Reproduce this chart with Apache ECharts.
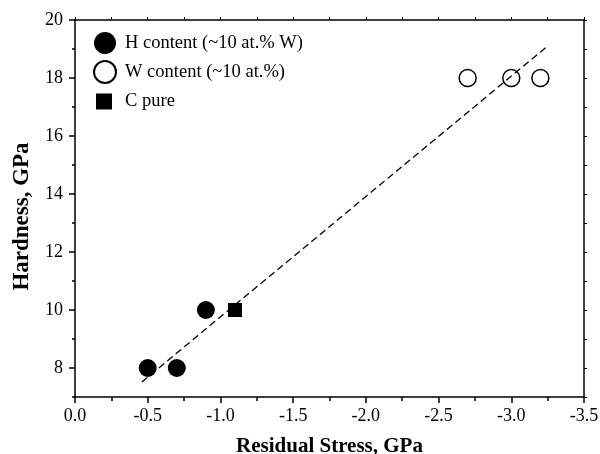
<!DOCTYPE html>
<html><head><meta charset="utf-8">
<script src="https://cdn.jsdelivr.net/npm/echarts@6/dist/echarts.min.js"></script>
<style>html,body{margin:0;padding:0;background:#fff}#c{width:600px;height:454px}</style>
</head><body><div id="c"></div>
<script>
const hContent = [[-0.5, 8], [-0.7, 8], [-0.9, 10]];
const wContent = [[-2.7, 18], [-3.0, 18], [-3.2, 18]];
const cPure = [[-1.1, 10]];
const fitLine = [[-0.46, 7.52], [-3.25, 19.1]];
const yLabels = [8, 10, 12, 14, 16, 18, 20];
const names = ['H content (~10 at.% W)', 'W content (~10 at.%)', 'C pure'];

const font = 'Liberation Serif';
const chart = echarts.init(document.getElementById('c'));
const axisLine = {show: true, lineStyle: {color: '#000', width: 1.5}};
chart.setOption({
  animation: false,
  backgroundColor: '#fff',
  textStyle: {fontFamily: font, color: '#000'},
  grid: {left: 75, right: 16, top: 20, bottom: 57, outerBoundsMode: 'none', containLabel: false},
  legend: [
    {data: [names[0], names[1]], orient: 'vertical', left: 93, top: 32, padding: 0,
     itemWidth: 22, itemHeight: 22, itemGap: 6,
     textStyle: {fontFamily: font, fontSize: 18.5, color: '#000', padding: [0, 0, 0, 4]}},
    {data: [names[2]], orient: 'vertical', left: 96, top: 92, padding: 0,
     itemWidth: 16, itemHeight: 16,
     textStyle: {fontFamily: font, fontSize: 18.5, color: '#000', padding: [0, 0, 0, 8]}}
  ],
  xAxis: [
    {type: 'value', min: -3.5, max: 0, interval: 0.5, inverse: true, position: 'bottom',
     name: 'Residual Stress, GPa', nameLocation: 'middle', nameGap: 39,
     nameTextStyle: {fontFamily: font, fontSize: 21, fontWeight: 'bold', color: '#000'},
     axisLine: axisLine,
     axisTick: {show: true, inside: false, length: 6, lineStyle: {color: '#000', width: 1.5}},
     minorTick: {show: true, splitNumber: 2, length: 4, lineStyle: {color: '#000', width: 1.5}},
     axisLabel: {fontFamily: font, fontSize: 18, color: '#000', margin: 10,
       formatter: v => v.toFixed(1)},
     splitLine: {show: false}},
    {type: 'value', min: -3.5, max: 0, interval: 0.25, inverse: true, position: 'top',
     axisLine: axisLine,
     axisTick: {show: true, inside: false, length: 3, lineStyle: {color: '#000', width: 1}},
     axisLabel: {show: false}, splitLine: {show: false}}
  ],
  yAxis: [
    {type: 'value', min: 7, max: 20, interval: 1, position: 'left',
     name: 'Hardness, GPa', nameLocation: 'middle', nameGap: 41,
     nameTextStyle: {fontFamily: font, fontSize: 23, fontWeight: 'bold', color: '#000',
       padding: [0, 16, 0, 0]},
     axisLine: axisLine,
     axisTick: {show: true, inside: false, length: 6, customValues: yLabels,
       lineStyle: {color: '#000', width: 1.5}},
     axisLabel: {fontFamily: font, fontSize: 18, color: '#000', margin: 12, customValues: yLabels},
     splitLine: {show: false}},
    {type: 'value', min: 7, max: 20, interval: 1, position: 'left',
     axisLine: {show: false},
     axisTick: {show: true, inside: false, length: 3, lineStyle: {color: '#000', width: 1.5}},
     axisLabel: {show: false}, splitLine: {show: false}},
    {type: 'value', min: 7, max: 20, interval: 1, position: 'right',
     axisLine: axisLine,
     axisTick: {show: true, inside: false, length: 3, lineStyle: {color: '#000', width: 1}},
     axisLabel: {show: false}, splitLine: {show: false}}
  ],
  series: [
    {name: 'fit', type: 'line', data: fitLine, showSymbol: false, symbol: 'none',
     lineStyle: {color: '#000', width: 1.3, type: [7, 4]}, z: 1, silent: true},
    {name: names[0], type: 'scatter', data: hContent, symbol: 'circle', symbolSize: 18,
     itemStyle: {color: '#000', opacity: 1}, z: 3},
    {name: names[1], type: 'scatter', data: wContent, symbol: 'circle', symbolSize: 17,
     itemStyle: {color: 'rgba(255,255,255,0)', borderColor: '#000', borderWidth: 1.5, opacity: 1}, z: 3},
    {name: names[2], type: 'scatter', data: cPure, symbol: 'rect', symbolSize: 14,
     itemStyle: {color: '#000', opacity: 1}, z: 3}
  ]
});
</script></body></html>
